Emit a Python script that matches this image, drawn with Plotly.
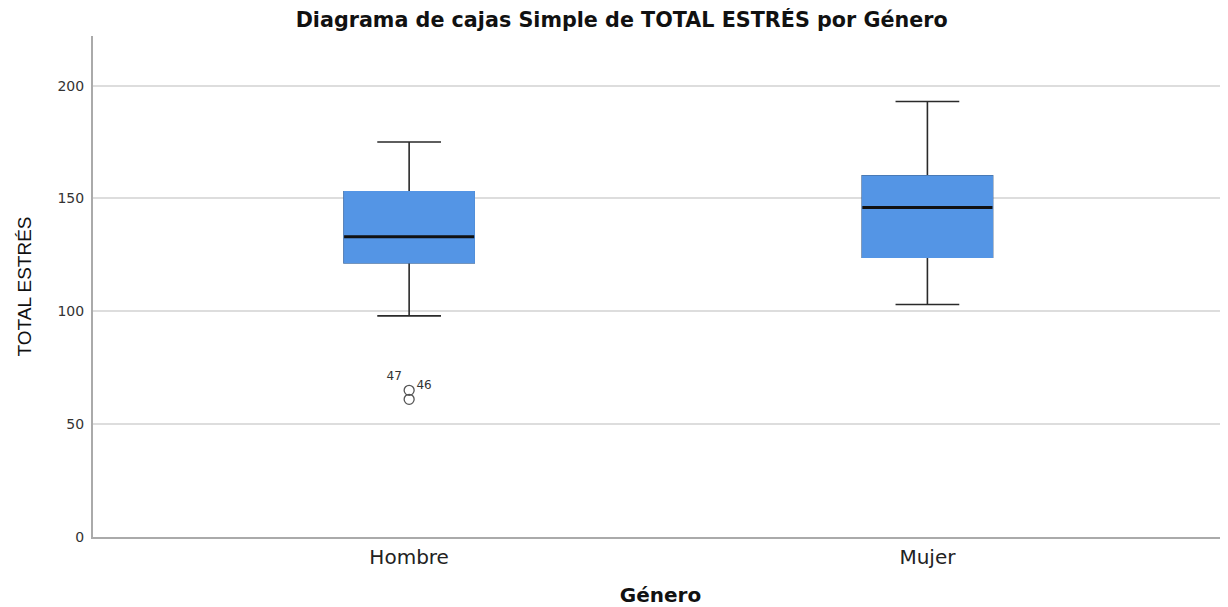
import plotly.graph_objects as go

# ---- data ----
categories = ["Hombre", "Mujer"]
lower_whisker = [98, 103]
q1_values = [121.5, 124]
median_values = [133, 146]
q3_values = [153, 160]
upper_whisker = [175, 193]

outlier_group = [0, 0]
outlier_values = [65, 61]
outlier_ids = ["47", "46"]
outlier_label_pos = ["top left", "top right"]

y_ticks = [0, 50, 100, 150, 200]

# ---- style ----
FONT = "Liberation Sans, Arial, sans-serif"
WFONT = "DejaVu Sans, Verdana, sans-serif"
BOX_FILL = "#5495E5"
WHISKER = "#2a2a2a"
BOX_W = 0.251
xs = list(range(len(categories)))

fig = go.Figure()

# whiskers (black) + box
fig.add_trace(go.Box(
    x=xs, q1=q1_values, median=median_values, q3=q3_values,
    lowerfence=lower_whisker, upperfence=upper_whisker,
    width=BOX_W, whiskerwidth=0.49, fillcolor=BOX_FILL,
    line=dict(color=WHISKER, width=1.6), boxpoints=False,
    hoverinfo="skip", showlegend=False,
))
# cover box outline with fill colour
fig.add_trace(go.Box(
    x=xs, q1=q1_values, median=median_values, q3=q3_values,
    lowerfence=q1_values, upperfence=q3_values,
    width=BOX_W, whiskerwidth=0.5, fillcolor=BOX_FILL,
    line=dict(color=BOX_FILL, width=1.5), boxpoints=False,
    hoverinfo="skip", showlegend=False,
))
# median line
fig.add_trace(go.Box(
    x=xs, q1=median_values, median=median_values, q3=median_values,
    lowerfence=median_values, upperfence=median_values,
    width=BOX_W, whiskerwidth=1, fillcolor="rgba(0,0,0,0)",
    line=dict(color="#111111", width=3), boxpoints=False,
    hoverinfo="skip", showlegend=False,
))
# outliers
fig.add_trace(go.Scatter(
    x=outlier_group, y=outlier_values, mode="markers+text",
    marker=dict(symbol="circle-open", size=10, color="#555555", line=dict(width=1.3)),
    text=outlier_ids, textposition=outlier_label_pos,
    textfont=dict(family=WFONT, size=12, color="#333333"),
    hoverinfo="skip", showlegend=False,
))

fig.update_layout(
    width=1220, height=599,
    margin=dict(l=85, r=0, t=28, b=70, autoexpand=False),
    paper_bgcolor="white", plot_bgcolor="white",
    boxmode="overlay",
    title=dict(text="<b>Diagrama de cajas Simple de TOTAL ESTRÉS por Género</b>",
               x=0.503, xanchor="center", y=1 - 12 / 599, yanchor="middle",
               font=dict(family=WFONT, size=20.7, color="#111111")),
    font=dict(family=FONT),
)
fig.update_xaxes(
    range=[-0.61, 1.58], tickvals=xs, ticktext=categories,
    tickfont=dict(family=WFONT, size=20, color="#222222"),
    showgrid=False, zeroline=False, showline=True, linecolor="#aaaaaa", linewidth=2,
    ticks="", ticklabelstandoff=1, automargin=False,
    title=dict(text="<b>Género</b>", font=dict(family=WFONT, size=20, color="#111111"), standoff=22),
)
fig.update_yaxes(
    range=[0, 222], tickvals=y_ticks,
    tickfont=dict(family=WFONT, size=14, color="#333333"),
    showgrid=True, gridcolor="#dddddd", gridwidth=2, zeroline=False,
    showline=True, linecolor="#aaaaaa", linewidth=2,
    ticks="", ticklabelstandoff=4, automargin=False,
    title=dict(text="TOTAL ESTRÉS", font=dict(family=FONT, size=19, color="#111111"), standoff=21),
)

fig.write_html("out.html")
